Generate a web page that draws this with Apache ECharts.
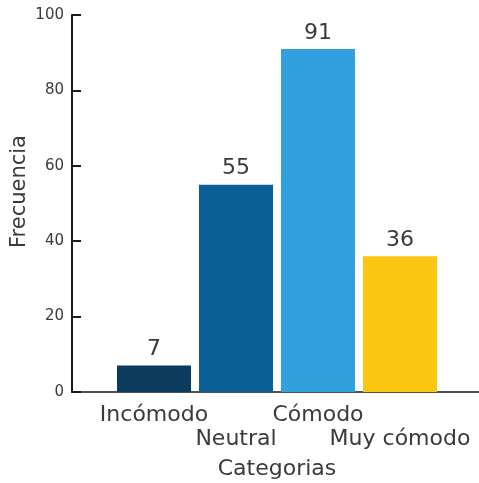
<!DOCTYPE html>
<html>
<head>
<meta charset="utf-8">
<script src="https://cdn.jsdelivr.net/npm/echarts@6/dist/echarts.min.js"></script>
<style>
  html, body { margin: 0; padding: 0; background: #ffffff; }
  #chart { width: 479px; height: 483px; }
</style>
</head>
<body>
<div id="chart"></div>
<script>
// Response categories and their counts
const categories = ['Incómodo', 'Neutral', 'Cómodo', 'Muy cómodo'];
const counts = [7, 55, 91, 36];
const barColors = ['#0c3b5e', '#0a5f95', '#31a0dc', '#fac60f'];
const yTicks = [0, 20, 40, 60, 80, 100];

const textColor = '#3a3a3a';
const font = 'DejaVu Sans';

// Bars sit at positions 1..n on a numeric axis spanning 0..n+1
const barData = categories.map((name, i) => ({
  value: [i + 1, counts[i]],
  itemStyle: { color: barColors[i] }
}));

const chart = echarts.init(document.getElementById('chart'), null, { renderer: 'canvas' });
chart.setOption({
  animation: false,
  backgroundColor: '#ffffff',
  grid: { left: 72, top: 15, width: 410, bottom: 91, containLabel: false, outerBoundsMode: 'none' },
  xAxis: {
    type: 'value',
    min: 0,
    max: categories.length + 1,
    interval: 1,
    name: 'Categorias',
    nameLocation: 'middle',
    nameGap: 66,
    nameMoveOverlap: false,
    nameTextStyle: { color: textColor, fontFamily: font, fontSize: 22 },
    axisLine: { show: true, lineStyle: { color: '#1a1a1a', width: 1.5 } },
    axisTick: { show: false },
    splitLine: { show: false },
    axisLabel: {
      color: textColor,
      fontFamily: font,
      fontSize: 22,
      lineHeight: 24,
      margin: 11,
      formatter: function (v) {
        const idx = Math.round(v) - 1;
        if (idx < 0 || idx >= categories.length) return '';
        return idx % 2 === 0 ? categories[idx] : '\n' + categories[idx];
      }
    }
  },
  yAxis: {
    type: 'value',
    min: 0,
    max: 100,
    interval: 20,
    name: 'Frecuencia',
    nameLocation: 'middle',
    nameGap: 42,
    nameMoveOverlap: false,
    nameTextStyle: { color: textColor, fontFamily: font, fontSize: 21, padding: [0, 0, 0, 24] },
    axisLine: { show: true, lineStyle: { color: '#1a1a1a', width: 2 } },
    axisTick: { show: true, inside: true, length: 9, lineStyle: { color: '#1a1a1a', width: 2 } },
    splitLine: { show: false },
    axisLabel: {
      color: textColor,
      fontFamily: font,
      fontSize: 15,
      margin: 8,
      formatter: function (v) { return yTicks.indexOf(v) >= 0 ? String(v) : ''; }
    }
  },
  series: [{
    type: 'bar',
    data: barData,
    barWidth: 74,
    label: {
      show: true,
      position: 'top',
      distance: 5,
      color: textColor,
      fontFamily: font,
      fontSize: 22,
      formatter: function (p) { return String(p.value[1]); }
    }
  }]
});
</script>
</body>
</html>
